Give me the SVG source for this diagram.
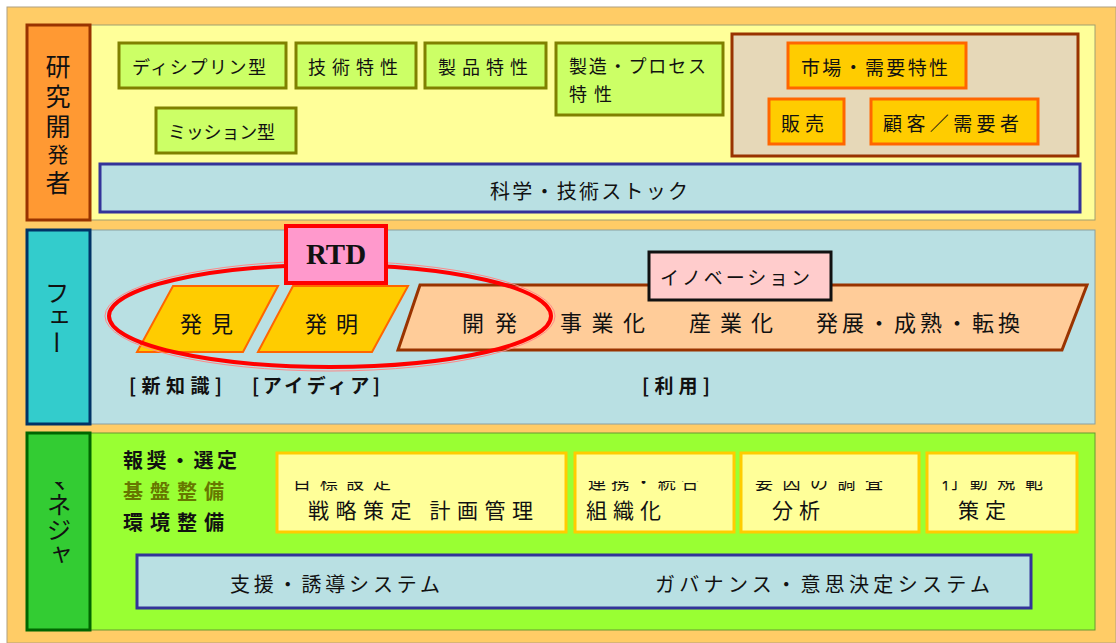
<svg xmlns="http://www.w3.org/2000/svg" width="1116" height="643" viewBox="0 0 1116 643">
<style>
text{font-family:"Noto Sans CJK JP","Noto Sans",sans-serif;fill:#111;}
.g{fill:#CCFF66;stroke:#808000;stroke-width:3;}
.o{fill:#FFCC00;stroke:#FF6600;stroke-width:3;}
.b{fill:#B9E0E3;stroke:#333399;stroke-width:3;}
.y{fill:#FFFF99;stroke:#FFCC00;stroke-width:3;}
.t18{font-size:18px;}
.t19{font-size:19px;}
.t20{font-size:20px;}
.t21{font-size:21px;}
.t22{font-size:22px;}
.bd{font-weight:bold;}
.vt{writing-mode:vertical-rl;}
</style>
<defs>
<clipPath id="clipHead"><rect x="270" y="481" width="820" height="40"/></clipPath>
<clipPath id="clipMgr"><rect x="20" y="482" width="80" height="150"/></clipPath>
</defs>
<rect x="0" y="0" width="1116" height="643" fill="#FFFFFF"/>
<rect x="7" y="7" width="1109" height="636" fill="#FFCC66" stroke="#B0A080" stroke-width="1"/>

<!-- Top band -->
<g id="band-research">
<rect x="90" y="25" width="1005" height="195" fill="#FFFF99" stroke="#A0A070" stroke-width="1"/>
<rect x="27" y="25" width="63" height="195" fill="#FF9933" stroke="#993300" stroke-width="3"/>
<text class="vt" x="58" y="54" style="font-size:25px;letter-spacing:5px">研究開<tspan style="font-size:21px">発</tspan>者</text>
</g>
<g id="n-discipline"><rect class="g" x="119" y="43" width="167" height="45"/><text class="t18" x="132" y="74" textLength="134">ディシプリン型</text></g>
<g id="n-tech"><rect class="g" x="296" y="43" width="120" height="45"/><text class="t18" x="308" y="74" textLength="90">技術特性</text></g>
<g id="n-product"><rect class="g" x="425" y="43" width="121" height="45"/><text class="t18" x="438" y="74" textLength="90">製品特性</text></g>
<g id="n-process"><rect class="g" x="556" y="43" width="167" height="72"/><text class="t18" x="569" y="73" textLength="137">製造・プロセス</text><text class="t18" x="569" y="101" textLength="43">特性</text></g>
<g id="n-mission"><rect class="g" x="156" y="108" width="140" height="45"/><text class="t18" x="168" y="139" textLength="107">ミッション型</text></g>
<g id="n-market-group"><rect x="732" y="34" width="346" height="122" fill="#E6D8B8" stroke="#993300" stroke-width="3"/></g>
<g id="n-market"><rect class="o" x="788" y="43" width="178" height="45"/><text class="t19" x="801" y="75" textLength="147">市場・需要特性</text></g>
<g id="n-sales"><rect class="o" x="769" y="99" width="75" height="45"/><text class="t19" x="781" y="131" textLength="43">販売</text></g>
<g id="n-customer"><rect class="o" x="871" y="99" width="167" height="45"/><text class="t19" x="883" y="131" textLength="136">顧客／需要者</text></g>
<g id="n-stock"><rect class="b" x="100" y="164" width="980" height="48"/><text class="t20" x="490" y="199" textLength="198">科学・技術ストック</text></g>

<!-- Middle band -->
<g id="band-phase">
<rect x="90" y="230" width="1005" height="194" fill="#B9E0E3" stroke="#8AA0A0" stroke-width="1"/>
<rect x="27" y="230" width="63" height="194" fill="#33CCCC" stroke="#003366" stroke-width="3"/>
<text class="vt" x="57" y="280" style="font-size:25px">フェー</text>
</g>
<g id="n-discovery"><polygon points="173,286 278,286 243,352 137,352" fill="#FFCC00" stroke="#FF6600" stroke-width="2"/><text class="t22" x="180" y="332" textLength="53">発見</text></g>
<g id="n-invention"><polygon points="293,286 408,286 372,352 258,352" fill="#FFCC00" stroke="#FF6600" stroke-width="2"/><text class="t22" x="305" y="332" textLength="53">発明</text></g>
<g id="n-innovation-bar"><polygon points="420,285 1087,285 1062,350 398,350" fill="#FFCC99" stroke="#993300" stroke-width="3"/>
<text class="t22" x="462" y="331" textLength="55">開発</text>
<text class="t22" x="560" y="331" textLength="85">事業化</text>
<text class="t22" x="689" y="331" textLength="84">産業化</text>
<text class="t22" x="816" y="331" textLength="204">発展・成熟・転換</text>
</g>
<g id="connectors">
<ellipse cx="330" cy="316" rx="225" ry="55" fill="none" stroke="#FF8888" stroke-width="1"/>
<ellipse cx="330" cy="316" rx="221" ry="51" fill="none" stroke="#FF0000" stroke-width="4"/>
</g>
<g id="n-rtd"><rect x="286" y="226" width="100" height="57" fill="#FF99CC" stroke="#FF0000" stroke-width="4"/><text x="336" y="264" text-anchor="middle" style="font-family:'Liberation Serif',serif;font-weight:bold;font-size:29px">RTD</text></g>
<g id="n-innovation"><rect x="649" y="252" width="182" height="48" fill="#FFCCCC" stroke="#111" stroke-width="3"/><text class="t19" x="660" y="285" textLength="150">イノベーション</text></g>
<g id="labels-phase">
<text class="t19 bd" x="129" y="393" textLength="93">[新知識]</text>
<text class="t19 bd" x="252" y="393" textLength="128">[アイディア]</text>
<text class="t19 bd" x="642" y="393" textLength="68">[利用]</text>
</g>

<!-- Bottom band -->
<g id="band-manager">
<rect x="90" y="433" width="1005" height="197" fill="#99FF33" stroke="#669933" stroke-width="1"/>
<rect x="27" y="433" width="63" height="197" fill="#33CC33" stroke="#006600" stroke-width="3"/>
<text class="vt" x="59" y="467" clip-path="url(#clipMgr)" style="font-size:25px">マネジャ</text>
</g>
<g id="n-policy">
<text class="t20 bd" x="123" y="468" textLength="114">報奨・選定</text>
<text class="t20 bd" x="123" y="499" textLength="101" style="fill:#667700">基盤整備</text>
<text class="t20 bd" x="123" y="530" textLength="101">環境整備</text>
</g>
<g id="n-strategy"><rect class="y" x="277" y="453" width="289" height="79"/><text class="t21" x="308" y="518" textLength="225">戦略策定  計画管理</text></g>
<g id="n-org"><rect class="y" x="575" y="453" width="159" height="79"/><text class="t21" x="586" y="518" textLength="75">組織化</text></g>
<g id="n-analysis"><rect class="y" x="741" y="453" width="178" height="79"/><text class="t21" x="772" y="518" textLength="48">分析</text></g>
<g id="n-norm"><rect class="y" x="927" y="453" width="150" height="79"/><text class="t21" x="958" y="518" textLength="48">策定</text></g>
<g id="clipped-headings" clip-path="url(#clipHead)">
<text class="t18" x="293" y="489" textLength="98">目標設定</text>
<text class="t18" x="588" y="489" textLength="111">連携・統合</text>
<text class="t18" x="755" y="489" textLength="128">要因の調査</text>
<text class="t18" x="942" y="489" textLength="101">行動規範</text>
</g>
<g id="n-systems"><rect class="b" x="137" y="555" width="894" height="53"/>
<text class="t20" x="230" y="592" textLength="210">支援・誘導システム</text>
<text class="t20" x="655" y="592" textLength="335">ガバナンス・意思決定システム</text>
</g>
</svg>
